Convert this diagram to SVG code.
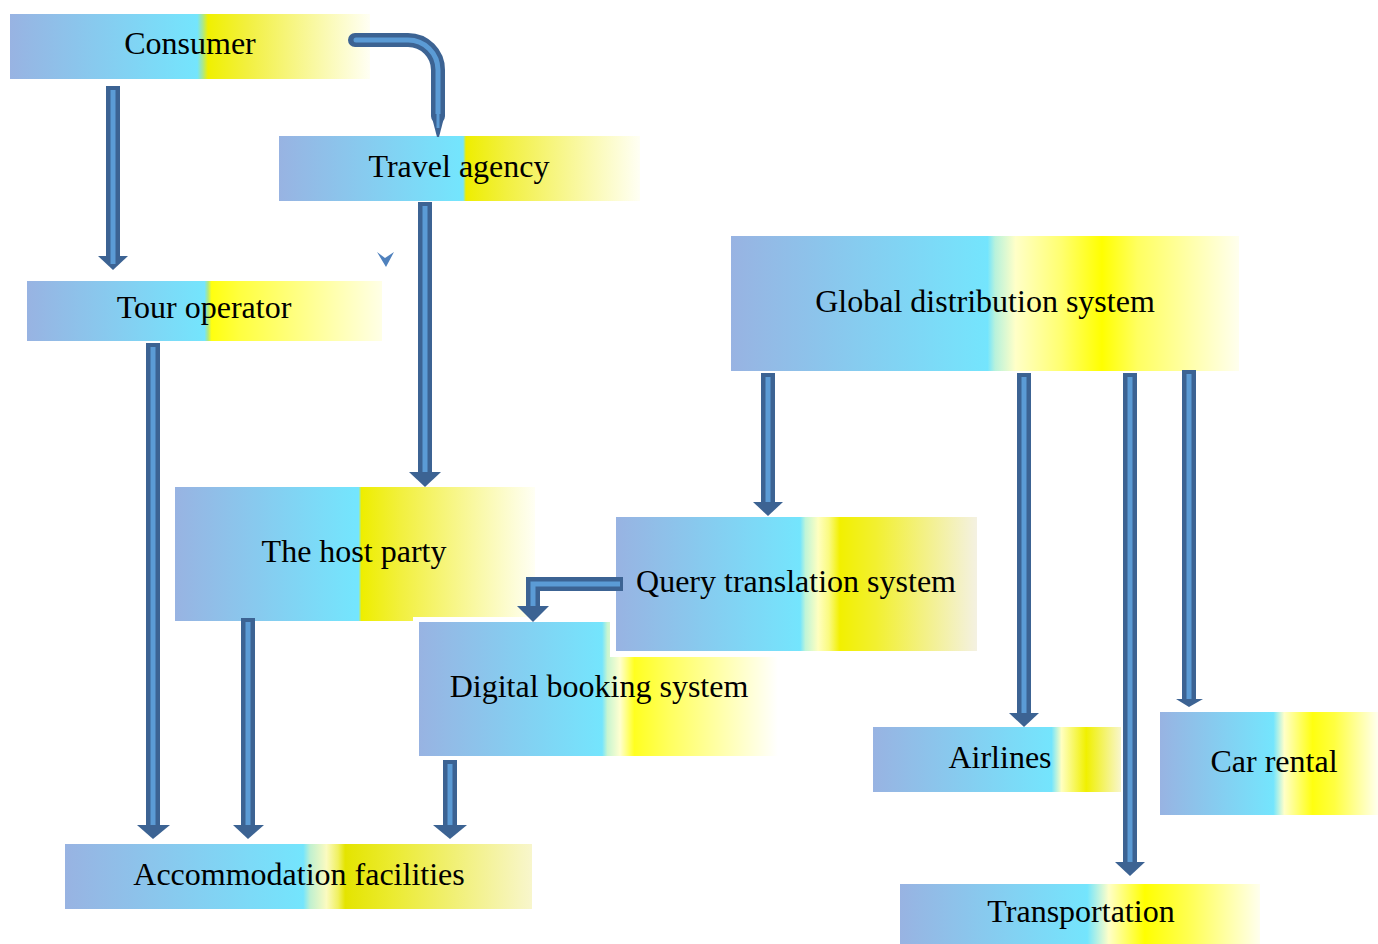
<svg xmlns="http://www.w3.org/2000/svg" width="1378" height="944" viewBox="0 0 1378 944">
<defs>
<linearGradient id="gA" x1="0" y1="0" x2="1" y2="0">
<stop offset="0" stop-color="#98b3e2"/><stop offset="0.5" stop-color="#74e5fd"/><stop offset="0.51" stop-color="#74e5fd"/><stop offset="0.518" stop-color="#eeee00"/><stop offset="0.63" stop-color="#f2f040"/><stop offset="1" stop-color="#fffff4"/>
</linearGradient>
<linearGradient id="gCons" x1="0" y1="0" x2="1" y2="0">
<stop offset="0" stop-color="#98b3e2"/><stop offset="0.52" stop-color="#74e5fd"/><stop offset="0.535" stop-color="#a8e890"/><stop offset="0.55" stop-color="#f0f000"/><stop offset="0.66" stop-color="#f2f040"/><stop offset="1" stop-color="#fffff4"/>
</linearGradient>
<linearGradient id="gTour" x1="0" y1="0" x2="1" y2="0">
<stop offset="0" stop-color="#98b3e2"/><stop offset="0.5" stop-color="#74e5fd"/><stop offset="0.51" stop-color="#b0e880"/><stop offset="0.52" stop-color="#ffff10"/><stop offset="0.6" stop-color="#ffff40"/><stop offset="1" stop-color="#ffffe6"/>
</linearGradient>
<linearGradient id="gQuery" x1="0" y1="0" x2="1" y2="0">
<stop offset="0" stop-color="#98b3e2"/><stop offset="0.51" stop-color="#74e5fd"/><stop offset="0.525" stop-color="#c0f5d8"/><stop offset="0.56" stop-color="#ffffc0"/><stop offset="0.59" stop-color="#fafa80"/><stop offset="0.62" stop-color="#f2f000"/><stop offset="0.72" stop-color="#f2f030"/><stop offset="1" stop-color="#f4f1e2"/>
</linearGradient>
<linearGradient id="gDig" x1="0" y1="0" x2="1" y2="0">
<stop offset="0" stop-color="#98b3e2"/><stop offset="0.51" stop-color="#74e5fd"/><stop offset="0.525" stop-color="#c8f5d0"/><stop offset="0.56" stop-color="#ffffd0"/><stop offset="0.6" stop-color="#ffff20"/><stop offset="0.7" stop-color="#ffff60"/><stop offset="1" stop-color="#ffffff"/>
</linearGradient>
<linearGradient id="gAcc" x1="0" y1="0" x2="1" y2="0">
<stop offset="0" stop-color="#98b3e2"/><stop offset="0.51" stop-color="#74e5fd"/><stop offset="0.525" stop-color="#c0f0d0"/><stop offset="0.56" stop-color="#fbfbc0"/><stop offset="0.585" stop-color="#f0f060"/><stop offset="0.6" stop-color="#e4e400"/><stop offset="0.7" stop-color="#ebeb30"/><stop offset="1" stop-color="#f8f6cc"/>
</linearGradient>
<linearGradient id="gGlob" x1="0" y1="0" x2="1" y2="0">
<stop offset="0" stop-color="#98b3e2"/><stop offset="0.505" stop-color="#74e5fd"/><stop offset="0.52" stop-color="#b8f2dc"/><stop offset="0.56" stop-color="#ffffc8"/><stop offset="0.65" stop-color="#ffff70"/><stop offset="0.73" stop-color="#ffff00"/><stop offset="0.8" stop-color="#ffff60"/><stop offset="1" stop-color="#ffffee"/>
</linearGradient>
<linearGradient id="gAir" x1="0" y1="0" x2="1" y2="0">
<stop offset="0" stop-color="#98b3e2"/><stop offset="0.72" stop-color="#74e5fd"/><stop offset="0.76" stop-color="#ffffc0"/><stop offset="0.86" stop-color="#f0f000"/><stop offset="1" stop-color="#f8f6cc"/>
</linearGradient>
<linearGradient id="gCar" x1="0" y1="0" x2="1" y2="0">
<stop offset="0" stop-color="#98b3e2"/><stop offset="0.52" stop-color="#74e5fd"/><stop offset="0.57" stop-color="#ffffc8"/><stop offset="0.7" stop-color="#ffff10"/><stop offset="0.8" stop-color="#ffff40"/><stop offset="1" stop-color="#ffffee"/>
</linearGradient>
<linearGradient id="gTrans" x1="0" y1="0" x2="1" y2="0">
<stop offset="0" stop-color="#98b3e2"/><stop offset="0.52" stop-color="#74e5fd"/><stop offset="0.58" stop-color="#ffffc8"/><stop offset="0.68" stop-color="#ffff00"/><stop offset="0.8" stop-color="#ffff50"/><stop offset="1" stop-color="#ffffee"/>
</linearGradient>
</defs>
<style>
.halo{fill:#ffffff}
.lbl{font-family:"Liberation Serif","Times New Roman",serif;font-size:32px;fill:#000;text-anchor:middle}
.sh{fill:none;stroke:#3c6393;stroke-width:14}
.in{fill:none;stroke:#5b9bd5;stroke-width:5}
.hd{fill:#3c6393}
</style>
<rect width="1378" height="944" fill="#ffffff"/>

<g id="consumer">
<rect x="10" y="14" width="360" height="65" fill="url(#gCons)"/>
<text class="lbl" x="190" y="54">Consumer</text>
</g>
<g id="travel-agency">
<rect x="279" y="136" width="361" height="65" fill="url(#gA)"/>
<text class="lbl" x="459" y="177">Travel agency</text>
</g>
<g id="tour-operator">
<rect x="27" y="281" width="355" height="60" fill="url(#gTour)"/>
<text class="lbl" x="204" y="318">Tour operator</text>
</g>
<g id="global-distribution-system">
<rect x="731" y="236" width="508" height="135" fill="url(#gGlob)"/>
<text class="lbl" x="985" y="312">Global distribution system</text>
</g>
<g id="host-party">
<rect x="175" y="487" width="360" height="134" fill="url(#gA)"/>
<text class="lbl" x="354" y="562">The host party</text>
</g>
<g id="digital-booking-system">
<rect class="halo" x="413" y="617" width="370" height="144"/>
<rect x="419" y="622" width="359" height="134" fill="url(#gDig)"/>
<text class="lbl" x="599" y="697">Digital booking system</text>
</g>
<g id="query-translation-system">
<rect class="halo" x="610" y="511" width="373" height="146"/>
<rect x="616" y="517" width="361" height="134" fill="url(#gQuery)"/>
<text class="lbl" x="796" y="592">Query translation system</text>
</g>
<g id="airlines">
<rect x="873" y="727" width="248" height="65" fill="url(#gAir)"/>
<text class="lbl" x="1000" y="768">Airlines</text>
</g>
<g id="car-rental">
<rect x="1160" y="712" width="218" height="103" fill="url(#gCar)"/>
<text class="lbl" x="1274" y="772">Car rental</text>
</g>
<g id="accommodation-facilities">
<rect x="65" y="844" width="467" height="65" fill="url(#gAcc)"/>
<text class="lbl" x="299" y="885">Accommodation facilities</text>
</g>
<g id="transportation">
<rect x="900" y="884" width="360" height="60" fill="url(#gTrans)"/>
<text class="lbl" x="1081" y="922">Transportation</text>
</g>

<g id="connectors">
<path class="sh" d="M113 86V257"/><path class="in" d="M113 90V262"/><polygon class="hd" points="98,256 128,256 113,270"/><path class="in" d="M113 256V264" stroke-width="3"/>
<path class="sh" d="M355 40H408A30 30 0 0 1 438 70V116" stroke-linecap="round"/>
<path class="in" d="M356 40H408A30 30 0 0 1 438 70V120" stroke-linecap="round"/>
<polygon class="hd" points="431,114 445,114 439,137 437,137"/>
<path d="M438 112L438 128" stroke="#5b9bd5" stroke-width="3"/>
<path class="sh" d="M425 202V474"/><path class="in" d="M425 206V478"/><polygon class="hd" points="409,472 441,472 425,487"/>
<path class="sh" d="M153 343V826"/><path class="in" d="M153 347V830"/><polygon class="hd" points="137,825 170,825 153,839"/>
<path class="sh" d="M248 618V826"/><path class="in" d="M248 622V830"/><polygon class="hd" points="233,825 264,825 248,839"/>
<path class="sh" d="M450 760V826"/><path class="in" d="M450 764V830"/><polygon class="hd" points="433,825 467,825 450,839"/>
<path class="sh" d="M623 584H533V608"/><path class="in" d="M620 584H533V612"/><polygon class="hd" points="517,606 549,606 533,622"/>
<path class="sh" d="M768 373V504"/><path class="in" d="M768 377V508"/><polygon class="hd" points="753,502 783,502 768,516"/>
<path class="sh" d="M1024 373V715"/><path class="in" d="M1024 377V719"/><polygon class="hd" points="1009,713 1039,713 1024,727"/>
<path class="sh" d="M1130 373V864"/><path class="in" d="M1130 377V868"/><polygon class="hd" points="1115,862 1145,862 1130,876"/>
<path class="sh" d="M1189 370V700"/><path class="in" d="M1189 374V702"/><polygon class="hd" points="1176,699 1203,699 1189,707"/>
<polygon points="377,252 385,258 394,252 386,267" fill="#4f81bd"/>
</g>
</svg>
